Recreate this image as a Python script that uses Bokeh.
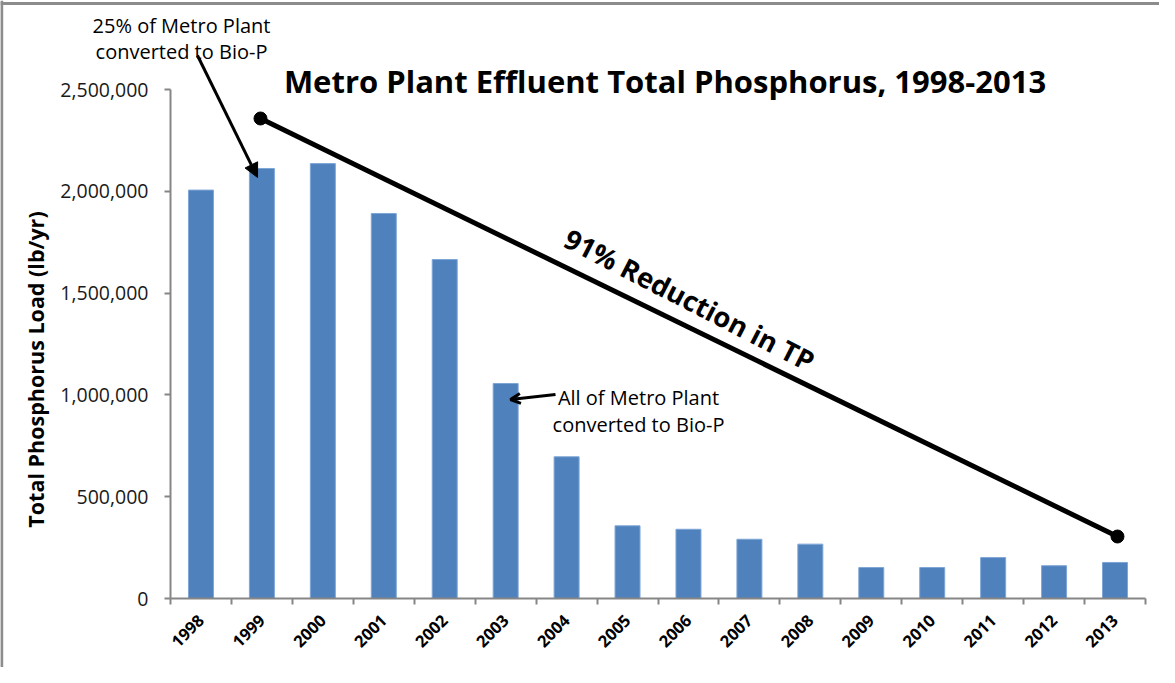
import numpy as np
from bokeh.plotting import figure
from bokeh.models import (Range1d, FixedTicker, NumeralTickFormatter, Label,
                          Arrow, NormalHead, OpenHead, ColumnDataSource, Span)
from bokeh.embed import file_html
from bokeh.resources import INLINE

# ---- data ----
years = ["1998", "1999", "2000", "2001", "2002", "2003", "2004", "2005",
         "2006", "2007", "2008", "2009", "2010", "2011", "2012", "2013"]
tp_load = [2006000, 2112000, 2136000, 1891000, 1665000, 1056000, 696000, 357000,
           340000, 291000, 267000, 152000, 152000, 201000, 161000, 177000]
y_ticks = [0, 500000, 1000000, 1500000, 2000000, 2500000]

title_text = "Metro Plant Effluent Total Phosphorus, 1998-2013"
y_label = "Total Phosphorus Load (lb/yr)"
note_25 = ["25% of Metro Plant", "converted to Bio-P"]
note_all = ["All of Metro Plant", "converted to Bio-P"]
trend_text = "91% Reduction in TP"

FONT = "Open Sans"
BAR = "#4F81BD"
AXIS = "#868686"
BORDER = "#8c8c8c"

n = len(years)
centers = [i + 0.5 for i in range(n)]
bounds = list(range(n + 1))

# ---- layout geometry (canvas pixels) ----
W, H = 1159, 667
AX_X = 170          # canvas x of the value axis
AX_Y0 = 598         # canvas y of value 0
PX_PER_CAT = 975 / n
PX_PER_VAL = 509 / 2500000

x0 = -AX_X / PX_PER_CAT
x1 = x0 + W / PX_PER_CAT
y1 = AX_Y0 / PX_PER_VAL
y0 = y1 - H / PX_PER_VAL

p = figure(width=W, height=H, output_backend="svg", toolbar_location=None,
           x_range=Range1d(x0, x1), y_range=Range1d(y0, y1),
           min_border=0, min_border_left=0, min_border_right=0,
           min_border_top=0, min_border_bottom=0,
           background_fill_color="white", border_fill_color="white")
p.outline_line_color = None
p.grid.visible = False

# outer chart border (top and left)
p.add_layout(Span(location=x0 + 1.2 / PX_PER_CAT, dimension="height",
                  line_color=BORDER, line_width=3))
p.add_layout(Span(location=y1 - 3 / PX_PER_VAL, dimension="width",
                  line_color=BORDER, line_width=3))

src = ColumnDataSource(dict(x=centers, top=tp_load, year=years))
p.vbar(x="x", top="top", width=0.41, bottom=0, source=src,
       fill_color=BAR, line_color="#7ea6d6", line_width=1)

# x axis
xa = p.xaxis[0]
xa.fixed_location = 0
xa.bounds = (0, n)
xa.ticker = FixedTicker(ticks=centers, minor_ticks=bounds)
xa.major_label_overrides = {c: y for c, y in zip(centers, years)}
xa.major_label_orientation = np.pi / 4
xa.major_label_text_font = FONT
xa.major_label_text_font_style = "bold"
xa.major_label_text_font_size = "16.5px"
xa.major_label_text_color = "black"
xa.major_label_standoff = 13
xa.axis_line_color = AXIS
xa.axis_line_width = 2
xa.major_tick_line_color = None
xa.minor_tick_line_color = AXIS
xa.minor_tick_line_width = 2
xa.minor_tick_out = 6
xa.minor_tick_in = 0

# y axis
ya = p.yaxis[0]
ya.fixed_location = 0
ya.bounds = (0, 2500000)
ya.ticker = FixedTicker(ticks=y_ticks)
ya.formatter = NumeralTickFormatter(format="0,0")
ya.major_label_text_font = FONT
ya.major_label_text_font_size = "19.5px"
ya.major_label_text_color = "#1a1a1a"
ya.major_label_standoff = 16
ya.axis_line_color = AXIS
ya.axis_line_width = 2
ya.major_tick_line_color = AXIS
ya.major_tick_line_width = 2
ya.major_tick_out = 6
ya.major_tick_in = 0
ya.minor_tick_line_color = None

# value-axis title (placed as in the original chart, slightly below centre)
p.add_layout(Label(x=-2.215, y=1124800, text=y_label, text_font=FONT,
                   text_font_style="bold", text_font_size="21.5px",
                   text_align="center", text_baseline="middle",
                   angle=np.pi / 2, text_color="black"))

# chart title
p.add_layout(Label(x=8.115, y=2544000, text=title_text, text_font=FONT,
                   text_font_style="bold", text_font_size="31px",
                   text_align="center", text_baseline="middle",
                   text_color="black"))

# trend line with dots
trend_x = [1.477, 15.54]
trend_y = [2357600, 304500]
p.line(x=trend_x, y=trend_y, line_width=5, line_color="black")
p.scatter(x=trend_x, y=trend_y, size=13, fill_color="black", line_color="black")
p.add_layout(Label(x=8.517, y=1468000, text=trend_text, text_font=FONT,
                   text_font_style="bold", text_font_size="27.5px",
                   text_align="center", text_baseline="middle",
                   angle=-0.475, text_color="black"))

# annotation 1 (25%)
for txt, yy in zip(note_25, [2814000, 2686000]):
    p.add_layout(Label(x=0.1805, y=yy, text=txt, text_font=FONT,
                       text_font_size="20px", text_align="center",
                       text_baseline="middle", text_color="black"))
p.add_layout(Arrow(x_start=0.443, y_start=2667000, x_end=1.428, y_end=2068000,
                   line_width=3, line_color="black",
                   end=NormalHead(size=14, fill_color="black", line_color="black")))

# annotation 2 (All)
for txt, yy in zip(note_all, [984800, 852200]):
    p.add_layout(Label(x=7.68, y=yy, text=txt, text_font=FONT,
                       text_font_size="20px", text_align="center",
                       text_baseline="middle", text_color="black"))
p.add_layout(Arrow(x_start=6.318, y_start=1002000, x_end=5.579, y_end=977000,
                   line_width=3, line_color="black",
                   end=OpenHead(size=10, line_width=3, line_color="black")))

open("out.html", "w").write(file_html(p, INLINE))
